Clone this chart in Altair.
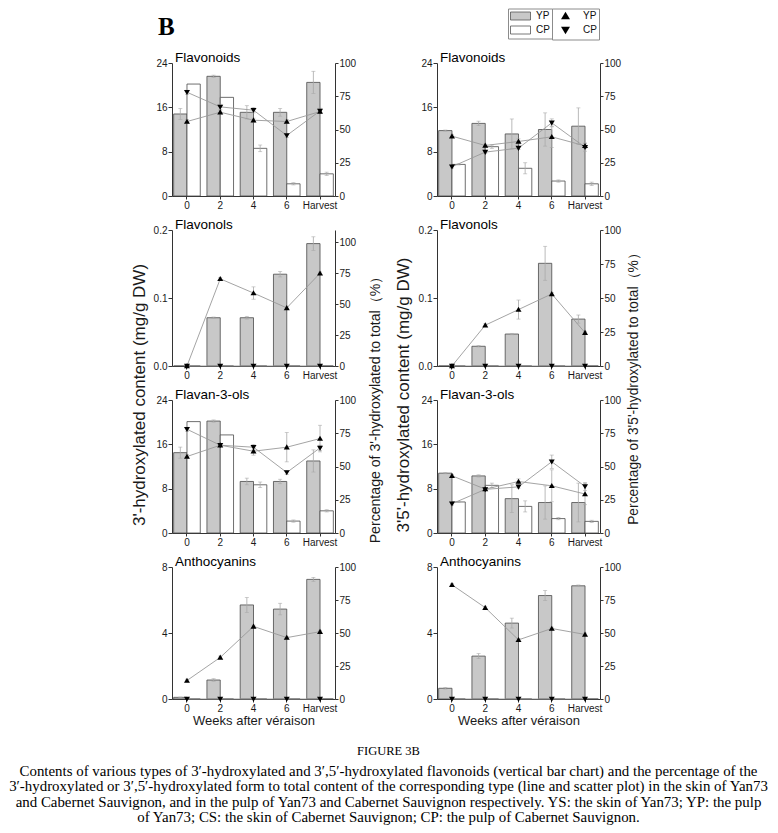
import altair as alt
import pandas as pd

CATS = ["0", "2", "4", "6", "Harvest"]
BAR_SERIES = ["YP", "CP"]
LINE_SERIES = ["YP ", "CP "]
ZERO = [0.0, 0.0, 0.0, 0.0, 0.0]

# ---------- 3'-hydroxylated (left column) ----------
fl3_yp = [14.8, 21.6, 15.1, 15.1, 20.5]
fl3_yp_err = [1.0, 0.2, 1.2, 0.7, 2.0]
fl3_cp = [20.2, 17.8, 8.6, 2.2, 4.0]
fl3_cp_err = [0.0, 0.0, 0.6, 0.2, 0.3]
fl3_yp_pct = [56.0, 63.0, 57.0, 56.0, 63.5]
fl3_yp_pct_err = [1.5, 1.5, 1.5, 1.5, 1.5]
fl3_cp_pct = [78.0, 67.0, 64.5, 45.5, 64.0]
fl3_cp_pct_err = [1.5, 2.0, 2.0, 1.5, 2.0]

fo3_yp = [0.0, 0.071, 0.071, 0.135, 0.180]
fo3_yp_err = [0.0, 0.001, 0.002, 0.004, 0.010]
fo3_cp = ZERO
fo3_cp_err = ZERO
fo3_yp_pct = [0.0, 70.5, 59.0, 47.0, 75.0]
fo3_yp_pct_err = [0.0, 1.0, 5.0, 1.0, 1.0]
fo3_cp_pct = ZERO
fo3_cp_pct_err = ZERO

fa3_yp = [14.5, 20.2, 9.3, 9.3, 13.0]
fa3_yp_err = [1.0, 0.2, 0.6, 0.4, 2.0]
fa3_cp = [20.1, 17.7, 8.7, 2.15, 4.0]
fa3_cp_err = [0.0, 0.0, 0.5, 0.2, 0.2]
fa3_yp_pct = [57.5, 66.0, 61.5, 64.5, 71.0]
fa3_yp_pct_err = [1.5, 1.0, 3.0, 11.0, 10.0]
fa3_cp_pct = [78.0, 66.0, 64.5, 45.5, 64.0]
fa3_cp_pct_err = [1.5, 1.0, 2.0, 1.5, 2.0]

an3_yp = [0.1, 1.15, 5.7, 5.45, 7.25]
an3_yp_err = [0.02, 0.08, 0.45, 0.35, 0.12]
an3_cp = ZERO
an3_cp_err = ZERO
an3_yp_pct = [14.0, 31.5, 55.0, 46.5, 51.0]
an3_yp_pct_err = [1.0, 1.0, 1.0, 1.0, 1.0]
an3_cp_pct = ZERO
an3_cp_pct_err = ZERO

# ---------- 3'5'-hydroxylated (right column) ----------
fl35_yp = [11.8, 13.1, 11.2, 12.0, 12.6]
fl35_yp_err = [0.1, 0.4, 2.7, 3.0, 3.3]
fl35_cp = [5.7, 8.9, 5.0, 2.7, 2.2]
fl35_cp_err = [0.1, 0.3, 1.0, 0.2, 0.3]
fl35_yp_pct = [45.0, 38.0, 41.0, 44.5, 37.7]
fl35_yp_pct_err = [1.0, 1.0, 2.0, 8.0, 2.0]
fl35_cp_pct = [22.0, 33.0, 36.0, 55.0, 36.7]
fl35_cp_pct_err = [1.0, 1.0, 1.0, 3.0, 3.0]

fo35_yp = [0.0, 0.029, 0.047, 0.151, 0.069]
fo35_yp_err = [0.0, 0.001, 0.001, 0.025, 0.006]
fo35_cp = ZERO
fo35_cp_err = ZERO
fo35_yp_pct = [0.0, 30.0, 41.5, 53.0, 24.5]
fo35_yp_pct_err = [0.0, 1.0, 7.0, 1.0, 1.0]
fo35_cp_pct = ZERO
fo35_cp_pct_err = ZERO

fa35_yp = [10.8, 10.3, 6.2, 5.5, 5.5]
fa35_yp_err = [0.1, 0.2, 2.5, 3.0, 3.5]
fa35_cp = [5.6, 8.6, 4.8, 2.6, 2.1]
fa35_cp_err = [0.1, 0.4, 1.0, 0.2, 0.2]
fa35_yp_pct = [43.0, 33.0, 38.7, 35.5, 29.3]
fa35_yp_pct_err = [1.0, 1.0, 2.0, 12.0, 8.0]
fa35_cp_pct = [22.0, 32.8, 34.7, 53.6, 35.0]
fa35_cp_pct_err = [1.0, 1.0, 1.0, 5.0, 3.0]

an35_yp = [0.65, 2.6, 4.6, 6.27, 6.86]
an35_yp_err = [0.05, 0.15, 0.3, 0.3, 0.05]
an35_cp = ZERO
an35_cp_err = ZERO
an35_yp_pct = [86.5, 69.2, 44.8, 53.4, 48.9]
an35_yp_pct_err = [1.0, 1.0, 1.0, 1.0, 1.0]
an35_cp_pct = ZERO
an35_cp_pct_err = ZERO

CAPTION_TITLE = "FIGURE 3B"
CAPTION_LINES = [
    "Contents of various types of 3\u2032-hydroxylated and 3\u2032,5\u2032-hydroxylated flavonoids (vertical bar chart) and the percentage of the",
    "3\u2032-hydroxylated or 3\u2032,5\u2032-hydroxylated form to total content of the corresponding type (line and scatter plot) in the skin of Yan73",
    "and Cabernet Sauvignon, and in the pulp of Yan73 and Cabernet Sauvignon respectively. YS: the skin of Yan73; YP: the pulp",
    "of Yan73; CS: the skin of Cabernet Sauvignon; CP: the pulp of Cabernet Sauvignon.",
]

FONT = "Liberation Sans"
UP = "M0,-0.95L1,0.75H-1Z"
DOWN = "M0,0.95L1,-0.75H-1Z"
W = 163


def panel(title, yp, yp_err, cp, cp_err, yp_pct, yp_pct_err, cp_pct, cp_pct_err,
          ydom, yvals, yfmt, pdom, height,
          left_title=None, left_pad=0, left_y=None,
          right_title=None, right_pad=0, right_y=None, right_size=14.1,
          xtitle=None, legends=False, letter=False):
    bdf = pd.DataFrame({"cat": CATS * 2, "series": ["YP"] * 5 + ["CP"] * 5,
                        "value": list(yp) + list(cp), "err": list(yp_err) + list(cp_err)})
    bdf["lo"] = bdf["value"] - bdf["err"]
    bdf["hi"] = bdf["value"] + bdf["err"]
    bedf = bdf[bdf["err"] > 0]

    pdf = pd.DataFrame({"cat": CATS * 2, "series": ["YP "] * 5 + ["CP "] * 5,
                        "pct": list(yp_pct) + list(cp_pct),
                        "err": list(yp_pct_err) + list(cp_pct_err)})
    pdf["lo"] = pdf["pct"] - pdf["err"]
    pdf["hi"] = pdf["pct"] + pdf["err"]
    pedf = pdf[pdf["err"] > 0]

    xax = dict(labelAngle=0, tickSize=3, labelPadding=1, title=xtitle,
               titlePadding=1, titleFontSize=13, titleFontWeight="normal")
    x = alt.X("cat:N", sort=CATS,
              scale=alt.Scale(domain=CATS, paddingInner=0.2, paddingOuter=0.05),
              axis=alt.Axis(**xax))
    xo = alt.XOffset("series:N", sort=BAR_SERIES,
                     scale=alt.Scale(domain=BAR_SERIES, paddingInner=0, paddingOuter=0))

    lax = dict(values=yvals, format=yfmt, tickSize=4, labelPadding=1, title=left_title)
    if left_title:
        lax.update(titleFontSize=17, titleFontWeight="normal", titlePadding=left_pad, titleY=left_y)
    ysc = alt.Scale(domain=ydom, nice=False, zero=True)

    rax = dict(orient="right", values=[0, 25, 50, 75, 100], tickSize=3, labelPadding=1, title=right_title)
    if right_title:
        rax.update(titleFontSize=right_size, titleFontWeight="normal", titlePadding=right_pad,
                   titleY=right_y, titleAngle=270, titleBaseline="top")
    psc = alt.Scale(domain=pdom, nice=False, zero=True)

    fill_leg = None
    shape_leg = None
    if legends:
        fill_leg = alt.Legend(orient="none", legendX=71, legendY=-54.5, title=None,
                              strokeColor="#8c8c8c", padding=2, rowPadding=1,
                              symbolType="M-1,-0.8H3V0.8H-1Z", symbolSize=100,
                              labelOffset=15,
                              symbolStrokeColor="#555555", symbolStrokeWidth=0.8,
                              labelFontSize=10, labelFont=FONT, labelColor="#111111")
        shape_leg = alt.Legend(orient="none", legendX=115, legendY=-54.5, title=None,
                               strokeColor="#8c8c8c", padding=2, rowPadding=1,
                               symbolSize=80, symbolOffset=6, labelOffset=12,
                               symbolFillColor="black",
                               labelFontSize=10, labelFont=FONT, labelColor="#111111")

    bars = alt.Chart(bdf).mark_bar(stroke="#4a4a4a", strokeWidth=0.8).encode(
        x=x, xOffset=xo,
        y=alt.Y("value:Q", scale=ysc, axis=alt.Axis(**lax)),
        fill=alt.Fill("series:N", sort=BAR_SERIES,
                      scale=alt.Scale(domain=BAR_SERIES, range=["#c8c8c8", "#ffffff"]),
                      legend=fill_leg),
    )
    berr = alt.Chart(bedf).mark_rule(color="#a8a8a8", strokeWidth=0.8).encode(
        x=x, xOffset=xo, y=alt.Y("lo:Q", scale=ysc, axis=alt.Axis(**lax)), y2="hi:Q")
    bcap_hi = alt.Chart(bedf).mark_tick(color="#a8a8a8", thickness=0.8, size=4).encode(
        x=x, xOffset=xo, y=alt.Y("hi:Q", scale=ysc, axis=alt.Axis(**lax)))
    bcap_lo = alt.Chart(bedf).mark_tick(color="#a8a8a8", thickness=0.8, size=4).encode(
        x=x, xOffset=xo, y=alt.Y("lo:Q", scale=ysc, axis=alt.Axis(**lax)))
    bar_group = alt.layer(bars, berr, bcap_hi, bcap_lo)

    py = alt.Y("pct:Q", scale=psc, axis=alt.Axis(**rax))
    line = alt.Chart(pdf).mark_line(color="#9a9a9a", strokeWidth=0.9).encode(
        x=x, y=py, detail="series:N")
    perr = alt.Chart(pedf).mark_rule(color="#a8a8a8", strokeWidth=0.8).encode(
        x=x, y=alt.Y("lo:Q", scale=psc, axis=alt.Axis(**rax)), y2="hi:Q")
    pcap_hi = alt.Chart(pedf).mark_tick(color="#a8a8a8", thickness=0.8, size=4).encode(
        x=x, y=alt.Y("hi:Q", scale=psc, axis=alt.Axis(**rax)))
    pcap_lo = alt.Chart(pedf).mark_tick(color="#a8a8a8", thickness=0.8, size=4).encode(
        x=x, y=alt.Y("lo:Q", scale=psc, axis=alt.Axis(**rax)))
    pts = alt.Chart(pdf).mark_point(filled=True, color="black", size=36, opacity=1).encode(
        x=x, y=py,
        shape=alt.Shape("series:N", sort=LINE_SERIES,
                        scale=alt.Scale(domain=LINE_SERIES, range=[UP, DOWN]),
                        legend=shape_leg),
    )
    name = alt.Chart(pd.DataFrame({"t": [title]})).mark_text(
        font=FONT, fontSize=13.5, align="left", baseline="alphabetic", color="black"
    ).encode(text="t:N", x=alt.value(3), y=alt.value(-1))
    layers = [line, perr, pcap_hi, pcap_lo, pts, name]
    if letter:
        layers.append(
            alt.Chart(pd.DataFrame({"t": ["B"]})).mark_text(
                font="Liberation Serif", fontSize=25, fontWeight="bold", align="left",
                baseline="alphabetic", color="black").encode(
                text="t:N", x=alt.value(-14), y=alt.value(-28)))
    line_group = alt.layer(*layers)

    return alt.layer(bar_group, line_group).resolve_scale(y="independent").properties(
        width=W, height=height)


HEIGHTS = [133, 136, 133, 132]

L1 = panel("Flavonoids", fl3_yp, fl3_yp_err, fl3_cp, fl3_cp_err, fl3_yp_pct, fl3_yp_pct_err,
           fl3_cp_pct, fl3_cp_pct_err, [0, 24], [0, 8, 16, 24], "d", [0, 100], HEIGHTS[0], letter=True)
L2 = panel("Flavonols", fo3_yp, fo3_yp_err, fo3_cp, fo3_cp_err, fo3_yp_pct, fo3_yp_pct_err,
           fo3_cp_pct, fo3_cp_pct_err, [0, 0.2], [0, 0.1, 0.2], ".1f", [0, 110], HEIGHTS[1],
           left_title="3'-hydroxylated content (mg/g DW)", left_pad=5, left_y=164.5,
           right_title="Percentage of 3'-hydroxylated to total\uff08%\uff09", right_pad=13, right_y=176,
           right_size=14.1)
L3 = panel("Flavan-3-ols", fa3_yp, fa3_yp_err, fa3_cp, fa3_cp_err, fa3_yp_pct, fa3_yp_pct_err,
           fa3_cp_pct, fa3_cp_pct_err, [0, 24], [0, 8, 16, 24], "d", [0, 100], HEIGHTS[2])
L4 = panel("Anthocyanins", an3_yp, an3_yp_err, an3_cp, an3_cp_err, an3_yp_pct, an3_yp_pct_err,
           an3_cp_pct, an3_cp_pct_err, [0, 8], [0, 4, 8], "d", [0, 100], HEIGHTS[3],
           xtitle="Weeks after v\u00e9raison")
R1 = panel("Flavonoids", fl35_yp, fl35_yp_err, fl35_cp, fl35_cp_err, fl35_yp_pct, fl35_yp_pct_err,
           fl35_cp_pct, fl35_cp_pct_err, [0, 24], [0, 8, 16, 24], "d", [0, 100], HEIGHTS[0], legends=True)
R2 = panel("Flavonols", fo35_yp, fo35_yp_err, fo35_cp, fo35_cp_err, fo35_yp_pct, fo35_yp_pct_err,
           fo35_cp_pct, fo35_cp_pct_err, [0, 0.2], [0, 0.1, 0.2], ".1f", [0, 100], HEIGHTS[1],
           left_title="3'5'-hydroxylated content (mg/g DW)", left_pad=6, left_y=164.5,
           right_title="Percentage of 3'5'-hydroxylated to total\uff08%\uff09", right_pad=6, right_y=155,
           right_size=13.8)
R3 = panel("Flavan-3-ols", fa35_yp, fa35_yp_err, fa35_cp, fa35_cp_err, fa35_yp_pct, fa35_yp_pct_err,
           fa35_cp_pct, fa35_cp_pct_err, [0, 24], [0, 8, 16, 24], "d", [0, 100], HEIGHTS[2])
R4 = panel("Anthocyanins", an35_yp, an35_yp_err, an35_cp, an35_cp_err, an35_yp_pct, an35_yp_pct_err,
           an35_cp_pct, an35_cp_pct_err, [0, 8], [0, 4, 8], "d", [0, 100], HEIGHTS[3],
           xtitle="Weeks after v\u00e9raison")

chart = alt.concat(
    L1, R1, L2, R2, L3, R3, L4, R4,
    columns=2, spacing={"row": 34, "column": 102}, bounds="flush",
).resolve_scale(
    fill="independent", shape="independent"
).properties(
    title=alt.TitleParams(
        CAPTION_TITLE, subtitle=CAPTION_LINES, orient="bottom", anchor="middle", frame="group",
        dx=216.5, offset=17.5, font="Liberation Serif", fontSize=12.5, fontWeight="normal", color="black",
        subtitleFont="Liberation Serif", subtitleFontSize=14.9, subtitleColor="black",
        subtitleLineHeight=15.3, subtitlePadding=7,
    ),
    padding={"left": 0, "top": 0, "right": 0, "bottom": 0},
).configure(
    font=FONT, background="white"
).configure_view(stroke=None).configure_axis(
    grid=False, domainColor="#333333", tickColor="#333333", labelColor="#1a1a1a",
    labelFont=FONT, labelFontSize=10, titleFont=FONT, titleColor="#1a1a1a",
    domainWidth=1, tickWidth=1,
)

chart.save("out.html", embed_options={"renderer": "svg", "actions": False})
